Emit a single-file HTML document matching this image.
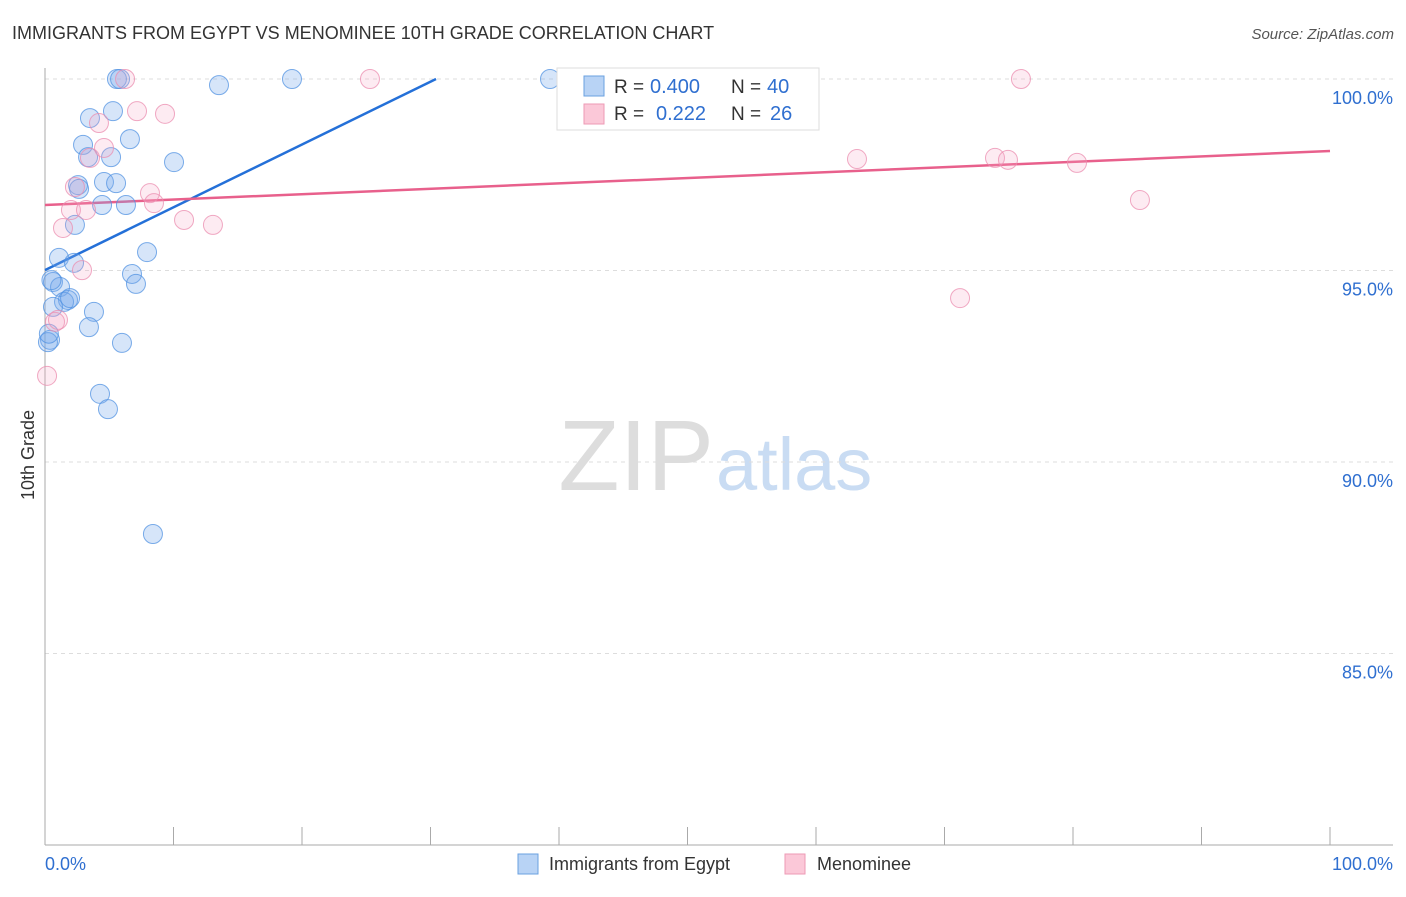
<!DOCTYPE html>
<html><head><meta charset="utf-8"><style>
body{margin:0;background:#fff;font-family:"Liberation Sans",sans-serif}
svg text{font-family:"Liberation Sans",sans-serif}
</style></head><body>
<svg id="chart" width="1406" height="892">
<text x="12" y="39" font-size="18" fill="#333">IMMIGRANTS FROM EGYPT VS MENOMINEE 10TH GRADE CORRELATION CHART</text>
<text x="1394" y="39" font-size="15" fill="#555" font-style="italic" text-anchor="end">Source: ZipAtlas.com</text>
<text x="714" y="490" font-size="100" fill="#ddd" text-anchor="end" font-family="Liberation Serif">ZIP</text>
<text x="716" y="490" font-size="74" fill="#c9dcf3">atlas</text>
<text x="34" y="455" font-size="18" fill="#333" transform="rotate(-90 34 455)" text-anchor="middle">10th Grade</text>
<g id="grid"></g><g id="lines"></g><g id="pts"></g>
<g>
<rect x="557" y="68" width="262" height="62" fill="#fff" stroke="#ddd"/>
<rect x="584" y="76" width="20" height="20" fill="#b8d3f5" stroke="#6aa0e0"/>
<rect x="584" y="104" width="20" height="20" fill="#fbc8d8" stroke="#ee9ab5"/>
<text x="614" y="93" font-size="19" fill="#333">R =</text>
<text x="650" y="93" font-size="20" fill="#2f6fd0">0.400</text>
<text x="731" y="93" font-size="19" fill="#333">N =</text>
<text x="767" y="93" font-size="20" fill="#2f6fd0">40</text>
<text x="614" y="120" font-size="19" fill="#333">R =</text>
<text x="656" y="120" font-size="20" fill="#2f6fd0">0.222</text>
<text x="731" y="120" font-size="19" fill="#333">N =</text>
<text x="770" y="120" font-size="20" fill="#2f6fd0">26</text>
</g>
<g>
<rect x="518" y="854" width="20" height="20" fill="#b8d3f5" stroke="#6aa0e0"/>
<text x="549" y="870" font-size="18" fill="#333">Immigrants from Egypt</text>
<rect x="785" y="854" width="20" height="20" fill="#fbc8d8" stroke="#ee9ab5"/>
<text x="817" y="870" font-size="18" fill="#333">Menominee</text>
</g>
<text x="45" y="870" font-size="18" fill="#2f6fd0">0.0%</text>
<text x="1393" y="870" font-size="18" fill="#2f6fd0" text-anchor="end">100.0%</text>
</svg>
<script>
const yTicks=[100,95,90,85];
const yTickLabels=["100.0%","95.0%","90.0%","85.0%"];
const xTicks=[0,10,20,30,40,50,60,70,80,90,100];
const egyptX=[5.6,5.84,13.54,19.22,39.3,5.29,3.5,6.61,2.96,3.35,5.14,10.04,4.59,5.53,2.57,2.65,4.44,6.3,2.33,7.94,1.09,2.26,6.77,7.08,0.62,1.17,1.79,1.48,1.95,0.62,3.81,3.42,5.99,0.39,0.23,4.28,4.9,8.4,0.3,0.5];
const egyptY=[100,100,99.84,100,100,99.16,98.98,98.43,98.28,97.96,97.96,97.83,97.31,97.28,97.23,97.13,96.71,96.71,96.19,95.48,95.33,95.2,94.91,94.65,94.7,94.57,94.23,94.18,94.28,94.05,93.92,93.52,93.11,93.19,93.13,91.78,91.38,88.12,93.35,94.75];
const menX=[6.23,25.29,75.95,7.16,9.34,4.2,4.59,3.5,2.33,8.17,8.48,2.02,3.19,10.82,13.07,1.4,2.88,0.78,1.01,0.16,63.19,73.93,74.94,80.31,85.21,71.21];
const menY=[100,100,100,99.16,99.09,98.85,98.2,97.94,97.18,97.02,96.76,96.58,96.58,96.32,96.19,96.11,95.01,93.66,93.71,92.25,97.91,97.94,97.89,97.81,96.84,94.28];
const egyptTrend=[[0,95.01],[30.43,100]];
const menTrend=[[0,96.71],[100,98.12]];
const NS="http://www.w3.org/2000/svg";
const sx=v=>45+v*12.85, sy=v=>79+(100-v)*38.3;
function mk(tag,attrs,parent){const e=document.createElementNS(NS,tag);for(const k in attrs)e.setAttribute(k,attrs[k]);document.getElementById(parent).appendChild(e);return e;}
yTicks.forEach((t,i)=>{
 const l=mk('line',{x1:45,x2:1393,y1:sy(t),y2:sy(t),stroke:'#ddd','stroke-dasharray':'4,4'},'grid');
 
 
 const tx=mk('text',{x:1393,y:sy(t)+25,'font-size':18,fill:'#2f6fd0','text-anchor':'end'},'grid');
 tx.textContent=yTickLabels[i];
 
 
});
const ax=mk('line',{x1:45,x2:45,y1:68,y2:845,stroke:'#aaa'},'grid');


const bx=mk('line',{x1:45,x2:1393,y1:845,y2:845,stroke:'#aaa'},'grid');


xTicks.forEach(t=>{
 const l=mk('line',{x1:sx(t),x2:sx(t),y1:827,y2:845,stroke:'#aaa'},'grid');
 
 
});
egyptX.forEach((x,i)=>{
 const c=mk('circle',{cx:sx(x),cy:sy(egyptY[i]),r:9.5,fill:'rgba(120,170,235,0.3)',stroke:'rgba(80,145,225,0.75)','stroke-width':1},'pts');
 
 
});
menX.forEach((x,i)=>{
 const c=mk('circle',{cx:sx(x),cy:sy(menY[i]),r:9.5,fill:'rgba(245,165,195,0.22)',stroke:'rgba(235,140,175,0.75)','stroke-width':1},'pts');
 
 
});
const l1=mk('line',{x1:sx(egyptTrend[0][0]),y1:sy(egyptTrend[0][1]),x2:sx(egyptTrend[1][0]),y2:sy(egyptTrend[1][1]),stroke:'#2470d8','stroke-width':2.5},'lines');


const l2=mk('line',{x1:sx(menTrend[0][0]),y1:sy(menTrend[0][1]),x2:sx(menTrend[1][0]),y2:sy(menTrend[1][1]),stroke:'#e8608c','stroke-width':2.5},'lines');


</script>
</body></html>
